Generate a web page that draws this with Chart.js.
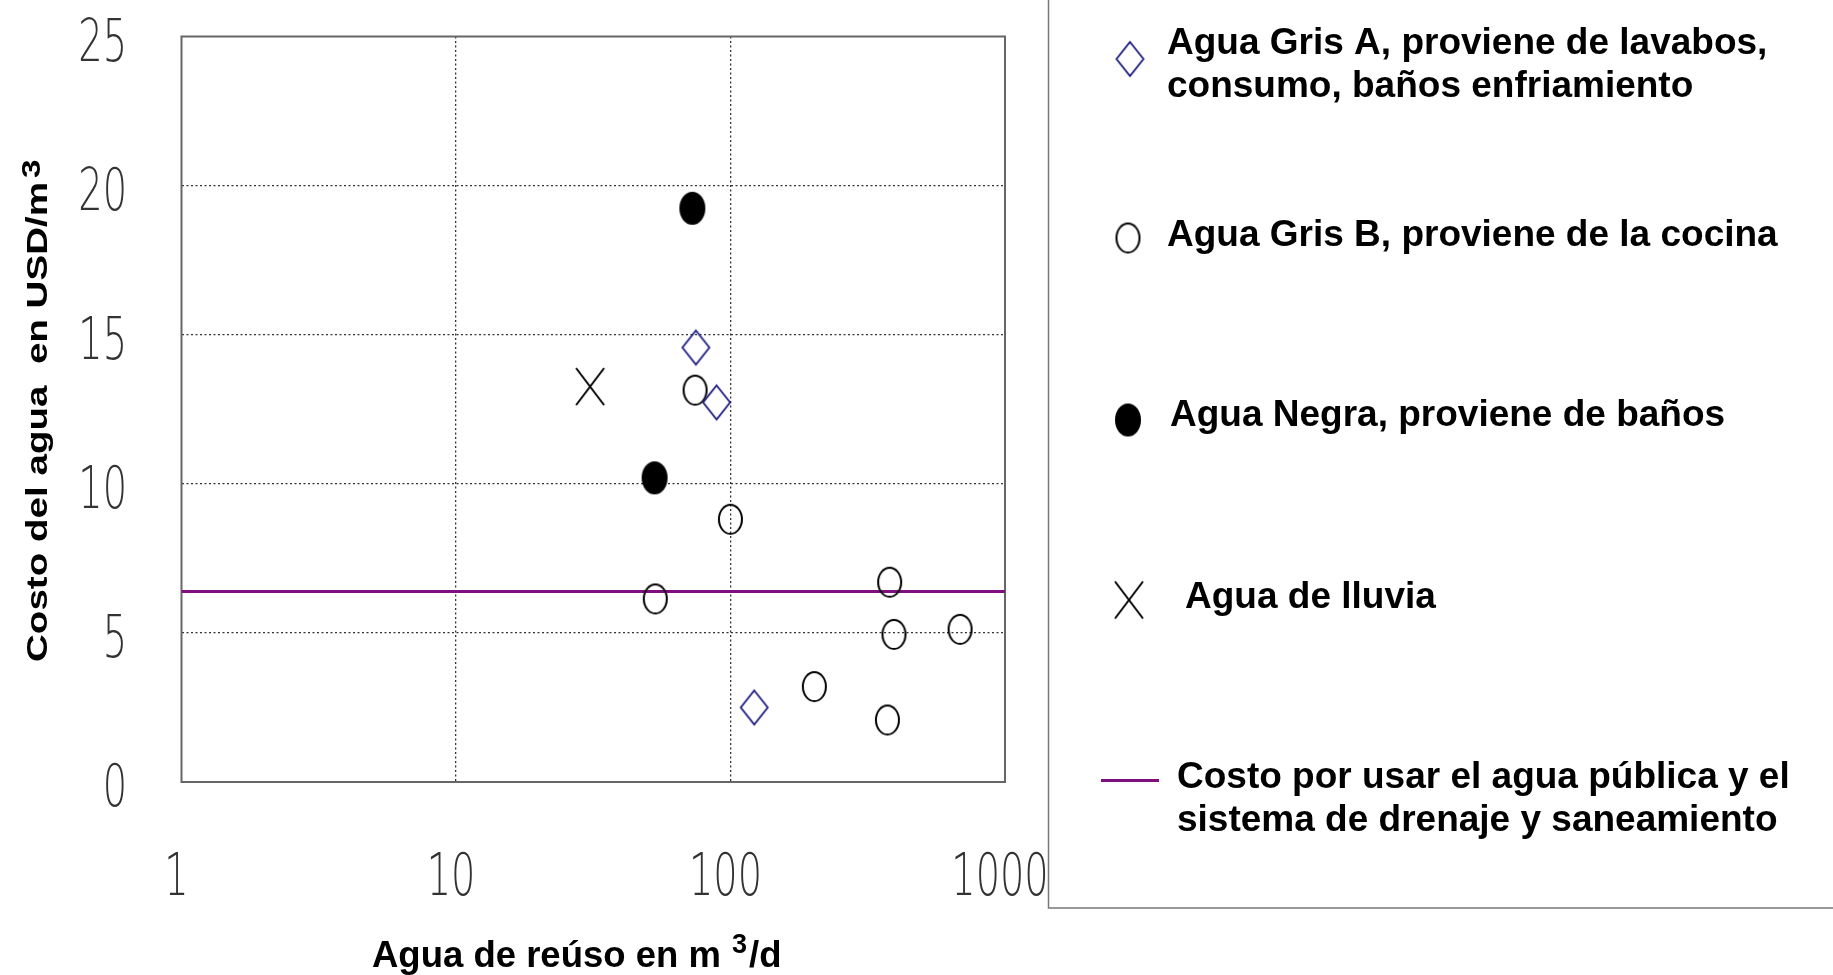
<!DOCTYPE html>
<html>
<head>
<meta charset="utf-8">
<script src="https://cdn.jsdelivr.net/npm/chart.js@4.4.0/dist/chart.umd.min.js"></script>
<style>
  body { margin: 0; background: #fff; }
</style>
</head>
<body>
<canvas id="costChart" width="1833" height="975"></canvas>
<script>
// values
var grisAx = [74.8, 89, 122];
var grisAy = [14.57, 12.73, 2.5];
var grisBx = [74.3, 99.9, 53.2, 380, 394, 686, 202, 373];
var grisBy = [13.14, 8.81, 6.14, 6.7, 4.95, 5.12, 3.2, 2.08];
var negraX = [72.6, 52.9];
var negraY = [19.24, 10.2];
var lluviaX = [30.8];
var lluviaY = [13.26];
var publicCostX = [1, 1000];
var publicCostY = [6.39, 6.39];

var xTicks = [1, 10, 100, 1000];
var xTickLabels = ['1', '10', '100', '1000'];
var yTicks = [0, 5, 10, 15, 20, 25];
var yTickLabels = ['0', '5', '10', '15', '20', '25'];

var seriesNames = [
  ['Agua Gris A, proviene de lavabos,', 'consumo, baños enfriamiento'],
  ['Agua Gris B, proviene de la cocina'],
  ['Agua Negra, proviene de baños'],
  ['Agua de lluvia'],
  ['Costo por usar el agua pública y el', 'sistema de drenaje y saneamiento']
];
var xTitle = 'Agua de reúso en m';
var xTitleEnd = '/d';
var yTitle = 'Costo del agua  en USD/m';

function pts(xs, ys) {
  return xs.map(function (x, i) { return { x: x, y: ys[i] }; });
}

// little canvases used as point styles (ellipses and tall diamonds)
function marker(w, h, draw) {
  var c = document.createElement('canvas');
  c.width = w + 6;
  c.height = h + 6;
  var g = c.getContext('2d');
  g.translate(c.width / 2, c.height / 2);
  draw(g, w / 2, h / 2);
  return c;
}
var diamond = marker(27, 34, function (g, rx, ry) {
  g.strokeStyle = '#1c1c80';
  g.lineWidth = 1.8;
  g.beginPath();
  g.moveTo(0, -ry); g.lineTo(rx, 0); g.lineTo(0, ry); g.lineTo(-rx, 0);
  g.closePath();
  g.stroke();
});
var ring = marker(25, 31, function (g, rx, ry) {
  g.strokeStyle = '#000';
  g.lineWidth = 2;
  g.beginPath();
  g.ellipse(0, 0, rx - 1, ry - 1, 0, 0, Math.PI * 2);
  g.stroke();
});
var dot = marker(26, 33, function (g, rx, ry) {
  g.fillStyle = '#000';
  g.beginPath();
  g.ellipse(0, 0, rx, ry, 0, 0, Math.PI * 2);
  g.fill();
});
var cross = marker(28, 37, function (g, rx, ry) {
  g.strokeStyle = '#000';
  g.lineWidth = 2;
  g.beginPath();
  g.moveTo(-rx, -ry); g.lineTo(rx, ry);
  g.moveTo(rx, -ry); g.lineTo(-rx, ry);
  g.stroke();
});

var purple = '#7f0f7f';
var boldFont = 'bold 37px "Liberation Sans", Arial, sans-serif';
var tickFont = '200 58px "DejaVu Sans", sans-serif';

function noPad(s) {
  s.paddingTop = 0; s.paddingBottom = 0; s.paddingLeft = 0; s.paddingRight = 0;
}

var decor = {
  id: 'decor',
  beforeDatasetsDraw: function (chart) {
    var ctx = chart.ctx, a = chart.chartArea;
    ctx.save();
    ctx.strokeStyle = '#666';
    ctx.lineWidth = 2;
    ctx.strokeRect(a.left, a.top, a.right - a.left, a.bottom - a.top);
    ctx.restore();
  },
  afterDraw: function (chart) {
    var ctx = chart.ctx, xs = chart.scales.x, ys = chart.scales.y;
    ctx.save();

    // tick labels, narrow and light
    ctx.fillStyle = '#333';
    ctx.font = tickFont;
    ctx.textBaseline = 'alphabetic';
    yTicks.forEach(function (v, i) {
      ctx.save();
      ctx.translate(127, ys.getPixelForValue(v) + 24);
      ctx.scale(0.66, 1);
      ctx.textAlign = 'right';
      ctx.fillText(yTickLabels[i], 0, 0);
      ctx.restore();
    });
    xTicks.forEach(function (v, i) {
      ctx.save();
      ctx.translate(xs.getPixelForValue(v) - 5, 895);
      ctx.scale(0.66, 1);
      ctx.textAlign = 'center';
      ctx.fillText(xTickLabels[i], 0, 0);
      ctx.restore();
    });

    // axis titles with raised 3
    ctx.fillStyle = '#000';
    ctx.textAlign = 'left';
    ctx.font = 'bold 36.5px "Liberation Sans", Arial, sans-serif';
    ctx.fillText(xTitle, 372, 967);
    ctx.font = 'bold 27px "Liberation Sans", Arial, sans-serif';
    ctx.fillText('3', 732, 953);
    ctx.font = 'bold 36.5px "Liberation Sans", Arial, sans-serif';
    ctx.fillText(xTitleEnd, 749, 967);

    ctx.save();
    ctx.translate(47, 662);
    ctx.rotate(-Math.PI / 2);
    ctx.scale(1.33, 1);
    ctx.font = 'bold 29px "Liberation Sans", Arial, sans-serif';
    ctx.fillText(yTitle, 0, 0);
    var w = ctx.measureText(yTitle).width;
    ctx.font = 'bold 25px "Liberation Sans", Arial, sans-serif';
    ctx.fillText('3', w + 3, -7);
    ctx.restore();

    // legend box, its top and right run off the picture
    ctx.strokeStyle = '#777';
    ctx.lineWidth = 1.5;
    ctx.strokeRect(1048.5, -10, 900, 918);

    var marks = [diamond, ring, dot, cross];
    var markPos = [[1130, 59], [1128, 238], [1128, 420], [1129, 600]];
    marks.forEach(function (m, i) {
      ctx.drawImage(m, markPos[i][0] - m.width / 2, markPos[i][1] - m.height / 2);
    });
    ctx.strokeStyle = purple;
    ctx.lineWidth = 3;
    ctx.beginPath();
    ctx.moveTo(1101, 780.5);
    ctx.lineTo(1159, 780.5);
    ctx.stroke();

    var textX = [1167, 1167, 1170, 1185, 1177];
    var textY = [54, 246, 426, 608, 788];
    ctx.fillStyle = '#000';
    ctx.font = boldFont;
    seriesNames.forEach(function (lines, i) {
      lines.forEach(function (t, j) {
        ctx.fillText(t, textX[i], textY[i] + j * 43);
      });
    });
    ctx.restore();
  }
};

var ctx = document.getElementById('costChart').getContext('2d');

var chartData = {
  datasets: [
    {
      label: seriesNames[0].join(' '),
      data: pts(grisAx, grisAy),
      pointStyle: diamond,
      pointRadius: 17
    },
    {
      label: seriesNames[1].join(' '),
      data: pts(grisBx, grisBy),
      pointStyle: ring,
      pointRadius: 16
    },
    {
      label: seriesNames[2].join(' '),
      data: pts(negraX, negraY),
      pointStyle: dot,
      pointRadius: 17
    },
    {
      label: seriesNames[3].join(' '),
      data: pts(lluviaX, lluviaY),
      pointStyle: cross,
      pointRadius: 19
    },
    {
      label: seriesNames[4].join(' '),
      data: pts(publicCostX, publicCostY),
      showLine: true,
      pointRadius: 0,
      borderColor: purple,
      borderWidth: 3
    }
  ]
};

var chartOptions = {
  responsive: false,
  animation: false,
  layout: { padding: { left: 0, top: 36.5, right: 828, bottom: 0 } },
  plugins: {
    legend: { display: false },
    tooltip: { enabled: false }
  },
  scales: {
    x: {
      type: 'logarithmic',
      min: 1,
      max: 1000,
      afterBuildTicks: function (s) {
        s.ticks = xTicks.map(function (v) { return { value: v }; });
      },
      afterFit: function (s) { s.height = 193; noPad(s); },
      ticks: { display: false },
      grid: {
        drawTicks: false,
        lineWidth: 1.3,
        color: function (c) {
          return (c.tick && (c.tick.value === 1 || c.tick.value === 1000)) ? 'rgba(0,0,0,0)' : '#333';
        }
      },
      border: { display: false, dash: [2, 2.5] }
    },
    y: {
      min: 0,
      max: 25,
      afterBuildTicks: function (s) {
        s.ticks = yTicks.map(function (v) { return { value: v }; });
      },
      afterFit: function (s) { s.width = 181.5; noPad(s); },
      ticks: { display: false },
      grid: {
        drawTicks: false,
        lineWidth: 1.3,
        color: function (c) {
          return (c.tick && (c.tick.value === 0 || c.tick.value === 25)) ? 'rgba(0,0,0,0)' : '#333';
        }
      },
      border: { display: false, dash: [2, 2.5] }
    }
  }
};

var costChart = new Chart(ctx, {
  type: 'scatter',
  data: chartData,
  options: chartOptions,
  plugins: [decor]
});
</script>
</body>
</html>
